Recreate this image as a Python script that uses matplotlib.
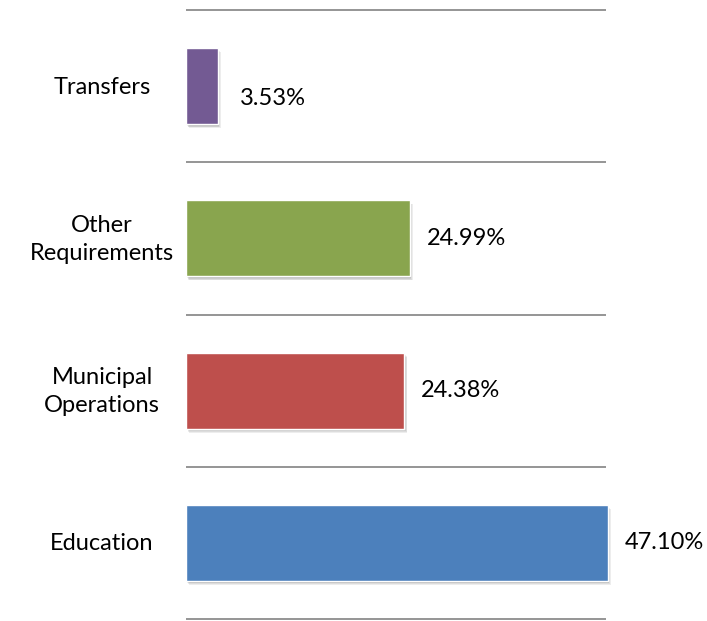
import matplotlib
matplotlib.use("Agg")
import matplotlib.pyplot as plt
from matplotlib.transforms import ScaledTranslation

# Budget share by category (top to bottom)
categories = ["Transfers", "Other\nRequirements", "Municipal\nOperations", "Education"]
shares = [3.53, 24.99, 24.38, 47.10]
value_labels = ["3.53%", "24.99%", "24.38%", "47.10%"]
bar_colors = ["#735A93", "#89A54E", "#BE4F4C", "#4C80BC"]

plt.rcParams["font.family"] = ["Lato", "DejaVu Sans"]

W, H = 707, 621
fig = plt.figure(figsize=(W / 100, H / 100), dpi=100)
ax = fig.add_axes([186 / W, 2 / H, 420 / W, 609 / H])

n = len(categories)
ypos = list(range(n))
bar_h = 0.5

# soft drop shadow under each bar
for k in range(1, 6):
    off = ScaledTranslation(k * 0.6 / 100, -k * 0.8 / 100, fig.dpi_scale_trans)
    shadow = ax.barh(ypos, shares, height=bar_h, color="#000000", alpha=0.07,
                     linewidth=0, transform=ax.transData + off, zorder=1)
    for p in shadow:
        p.set_clip_on(False)

bars = ax.barh(ypos, shares, height=bar_h, color=bar_colors,
               edgecolor="white", linewidth=1.0, zorder=3)
for p in bars:
    p.set_clip_on(False)

ax.set_xlim(0, 46.93)
ax.set_ylim(n - 0.5, -0.5)

# separators between categories
ax.hlines([i - 0.5 for i in range(n + 1)], 0, 46.93, colors="#8C8C8C",
          linewidth=1.3, clip_on=False, zorder=2)

for s in ax.spines.values():
    s.set_visible(False)
ax.set_xticks([])
ax.set_yticks([])

label_fs = 17
# category labels, centred in the left margin
for y, name in zip(ypos, categories):
    ax.annotate(name, xy=(0, y), xycoords=("data", "data"),
                xytext=(-84 * 0.72, -1 * 0.72), textcoords="offset points",
                ha="center", va="center", fontsize=label_fs,
                linespacing=1.4, color="#000000")

# value labels to the right of each bar
for y, v, txt in zip(ypos, shares, value_labels):
    dx, dy = (17, 0) if v > 10 else (22, -12)
    ax.annotate(txt, xy=(v, y), xytext=(dx * 0.72, dy * 0.72),
                textcoords="offset points", ha="left", va="center",
                fontsize=label_fs, color="#000000", annotation_clip=False)

fig.savefig("out.png", dpi=100, facecolor="white")
